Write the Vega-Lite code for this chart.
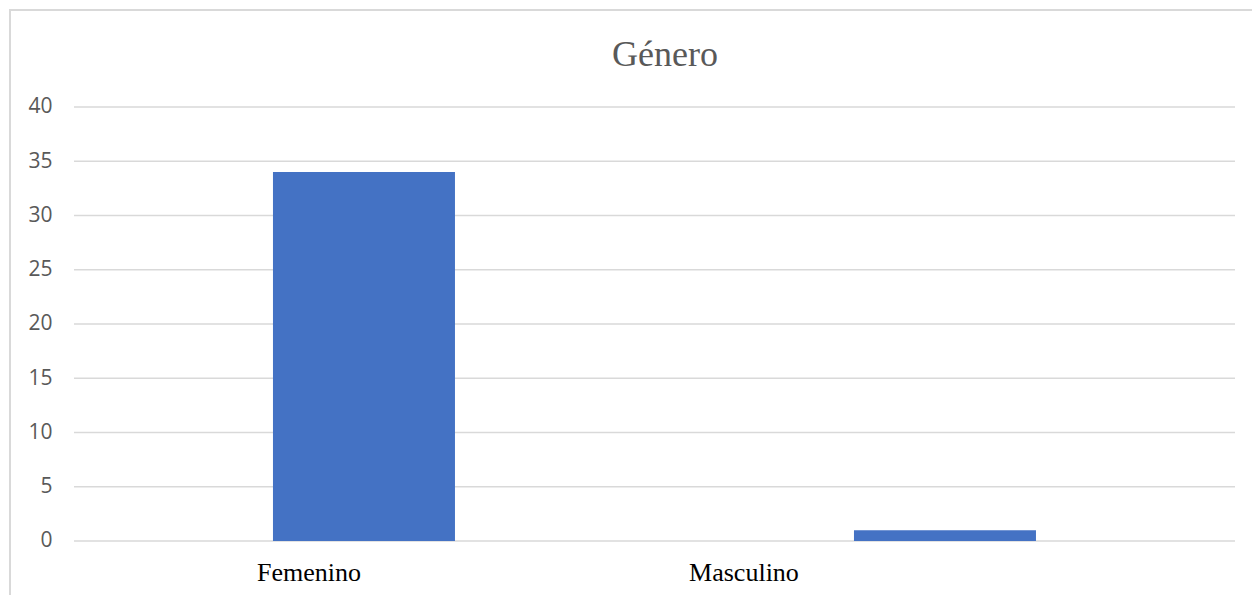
{
  "$schema": "https://vega.github.io/schema/vega-lite/v6.json",
  "width": 1242,
  "height": 585,
  "padding": {"left": 10, "top": 10, "right": 0, "bottom": 0},
  "autosize": {"type": "none"},
  "background": "white",
  "config": {
    "view": {"stroke": "#d9d9d9", "strokeWidth": 2, "strokeDash": [1242, 1827, 585]},
    "axisY": {
      "title": null,
      "orient": "left",
      "offset": -44,
      "domain": false,
      "ticks": false,
      "grid": false,
      "labelPadding": 2,
      "labelFont": "Open Sans",
      "labelFontSize": 21,
      "labelColor": "#595959"
    }
  },
  "title": {
    "text": "Género",
    "font": "Liberation Serif",
    "fontSize": 36,
    "fontWeight": "normal",
    "color": "#595959",
    "frame": "group",
    "anchor": "middle",
    "baseline": "alphabetic",
    "offset": -56,
    "dx": 34,
    "dy": 36
  },
  "datasets": {
    "genero": [
      {"genero": "Femenino", "cantidad": 34},
      {"genero": "Masculino", "cantidad": 1}
    ],
    "ticks": [
      {"tick": 0}, {"tick": 5}, {"tick": 10}, {"tick": 15}, {"tick": 20},
      {"tick": 25}, {"tick": 30}, {"tick": 35}, {"tick": 40}
    ]
  },
  "layer": [
    {
      "data": {"name": "ticks"},
      "mark": {"type": "rule", "color": "#d9d9d9", "strokeWidth": 1.5},
      "encoding": {
        "x": {
          "datum": 0,
          "type": "quantitative",
          "scale": {"domain": [-0.055125, 1.014642], "nice": false, "zero": false},
          "axis": null
        },
        "x2": {"datum": 1},
        "y": {
          "field": "tick",
          "type": "quantitative",
          "scale": {"domain": [-4.977, 48.94], "nice": false, "zero": false},
          "axis": {"title": null, "values": [0, 5, 10, 15, 20, 25, 30, 35, 40]}
        }
      }
    },
    {
      "data": {"name": "genero"},
      "mark": {"type": "bar", "color": "#4472c4"},
      "encoding": {
        "x": {
          "field": "genero",
          "type": "nominal",
          "sort": null,
          "scale": {"paddingInner": 0.68675, "paddingOuter": 0.41222, "align": 0.549},
          "axis": {
            "title": null,
            "orient": "bottom",
            "offset": -54,
            "domain": false,
            "ticks": false,
            "grid": false,
            "labelAngle": 0,
            "labelFont": "Liberation Serif",
            "labelFontSize": 26,
            "labelColor": "#000000",
            "labelBaseline": "alphabetic",
            "labelPadding": 39,
            "labelOffset": {"condition": {"test": "datum.value === 'Femenino'", "value": -55}, "value": -201}
          }
        },
        "y": {
          "field": "cantidad",
          "type": "quantitative",
          "scale": {"domain": [-4.977, 48.94], "nice": false, "zero": false},
          "axis": {"title": null, "values": [0, 5, 10, 15, 20, 25, 30, 35, 40]}
        },
        "y2": {"datum": 0}
      }
    }
  ],
  "resolve": {"scale": {"x": "independent"}}
}
